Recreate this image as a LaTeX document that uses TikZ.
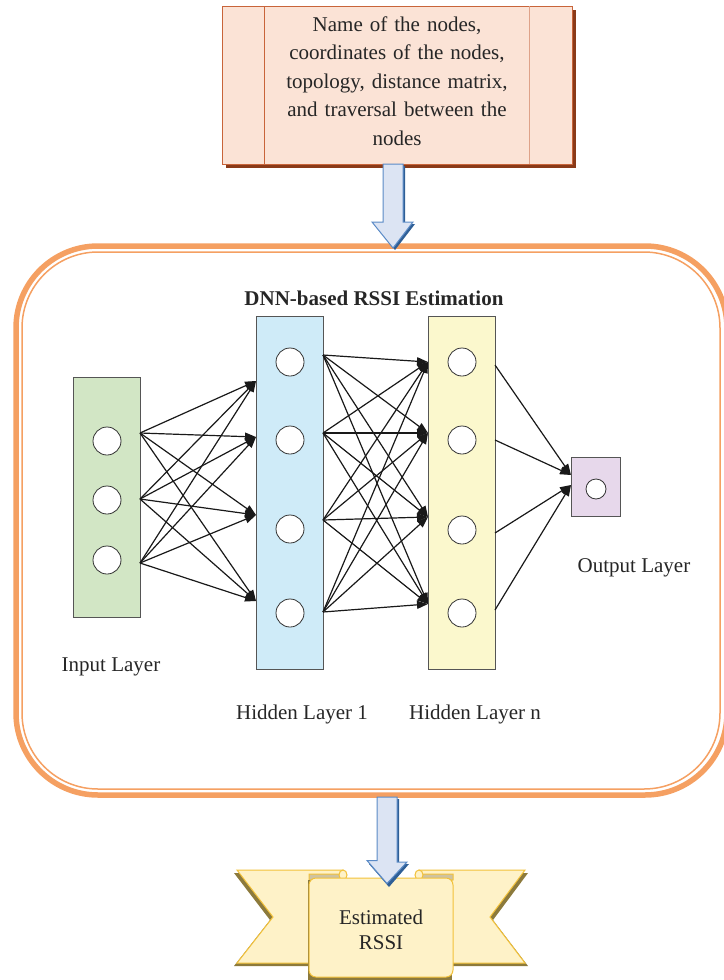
\documentclass[tikz,border=0pt]{standalone}
\usepackage{fontspec}
\setmainfont{Liberation Serif}
\usetikzlibrary{arrows.meta,calc}
\definecolor{topfill}{HTML}{FBE3D6}
\definecolor{topborder}{HTML}{C8643A}
\definecolor{topshadow}{HTML}{8A3A18}
\definecolor{arrfill}{HTML}{DCE4F3}
\definecolor{arrborder}{HTML}{5A8AC6}
\definecolor{arrshadow}{HTML}{2F5F96}
\definecolor{boxorange}{HTML}{F5A062}
\definecolor{greenfill}{HTML}{D2E6C5}
\definecolor{bluefill}{HTML}{CFEBF8}
\definecolor{yellowfill}{HTML}{FBF8CD}
\definecolor{purplefill}{HTML}{E7D8EB}
\definecolor{layerborder}{HTML}{555555}
\definecolor{ribfill}{HTML}{FEF2C8}
\definecolor{ribborder}{HTML}{F2C13A}
\definecolor{ribback}{HTML}{CFC3A0}
\definecolor{ribshadow}{HTML}{8C7A3C}
\begin{document}
\begin{tikzpicture}[x=1pt,y=-1pt,
  txt/.style={font=\fontsize{21}{25}\selectfont, text=black!85, inner sep=0pt},
  layer/.style={draw=layerborder, line width=0.8pt, inner sep=0pt},
  neuron/.style={circle, draw=black!80, fill=white, line width=0.8pt, minimum size=28pt, inner sep=0pt},
  link/.style={line width=1.2pt, draw=black!90, -{Triangle[length=11pt,width=8pt]}},
  blockarrow/.style={draw=arrborder, fill=arrfill, line width=1pt},
  ribbon/.style={draw=ribborder, fill=ribfill, line width=1pt}]
\useasboundingbox (0,0) rectangle (723,980);

% ---------- top source box ----------
\fill[topshadow] (226,10) rectangle (576,168);
\node[draw=topborder, fill=topfill, line width=1pt, minimum width=350pt, minimum height=158pt, inner sep=0pt, anchor=north west] (src) at (222,6) {};
\draw[topborder, line width=1pt] (264,6) -- (264,164);
\draw[topborder!60, line width=1pt] (529,6) -- (529,164);
\node[txt, align=center, text width=262pt, font=\fontsize{21}{28.5}\selectfont] (srctext) at (397,81)
  {Name of the nodes,\\coordinates of the nodes,\\topology, distance matrix,\\and traversal between the\\nodes};

% ---------- outer rounded box ----------
\draw[boxorange, line width=5.5pt, rounded corners=82pt] (16,246) rectangle (727,795);
\draw[boxorange, line width=1.5pt, rounded corners=76pt] (22,252) rectangle (720,789);
\coordinate (boxtop) at (393,248);
\coordinate (boxbot) at (387,797);

% ---------- block arrow 1 ----------
\fill[arrshadow] (385,166) -- ++(20,0) -- ++(0,58) -- ++(10,0) -- ++(-20,26) -- ++(-20,-26) -- ++(10,0) -- cycle;
\draw[blockarrow] (383,164) -- ++(20,0) -- ++(0,58) -- ++(10,0) -- (boxtop) -- ++(-21,-26) -- ++(11,0) -- cycle;

% ---------- title ----------
\node[txt, font=\fontsize{21}{25}\selectfont\bfseries] (title) at (374,298) {DNN-based RSSI Estimation};

% ---------- layers ----------
\node[layer, fill=greenfill, minimum width=67pt, minimum height=240pt] (inL) at (106.5,497) {};
\node[layer, fill=bluefill, minimum width=67pt, minimum height=353pt] (h1L) at (289.5,492.5) {};
\node[layer, fill=yellowfill, minimum width=67pt, minimum height=353pt] (hnL) at (461.5,492.5) {};
\node[layer, fill=purplefill, minimum width=49pt, minimum height=59pt] (outL) at (595.5,486.5) {};

\node[neuron] (i1) at (107,441) {};
\node[neuron] (i2) at (107,500) {};
\node[neuron] (i3) at (107,560) {};
\node[neuron] (a1) at (290,362) {};
\node[neuron] (a2) at (290,440) {};
\node[neuron] (a3) at (290,529) {};
\node[neuron] (a4) at (290,613) {};
\node[neuron] (b1) at (462,362) {};
\node[neuron] (b2) at (462,440) {};
\node[neuron] (b3) at (462,530) {};
\node[neuron] (b4) at (462,613) {};
\node[neuron, minimum size=20pt] (o1) at (596,489) {};

% connection points on layer edges
\coordinate (iA) at (140,433); \coordinate (iB) at (140,499); \coordinate (iC) at (140,563);
\coordinate (hA) at (256,381); \coordinate (hB) at (256,437); \coordinate (hC) at (256,515); \coordinate (hD) at (256,601);
\coordinate (sA) at (323,355); \coordinate (sB) at (323,433); \coordinate (sC) at (323,520); \coordinate (sD) at (323,612);
\coordinate (tA) at (428,362); \coordinate (tB) at (428,433); \coordinate (tC) at (428,517); \coordinate (tD) at (428,604);
\coordinate (uA) at (495,365); \coordinate (uB) at (495,440); \coordinate (uC) at (495,533); \coordinate (uD) at (495,610);
\coordinate (oA) at (571,475); \coordinate (oB) at (571,485);

\foreach \s in {iA,iB,iC}{\foreach \t in {hA,hB,hC,hD}{\draw[link] (\s) -- (\t);}}
\foreach \s in {sA,sB,sC,sD}{\foreach \t in {tA,tB,tC,tD}{\draw[link] (\s) -- (\t);}}
\draw[link] (uA) -- (oA);
\draw[link] (uB) -- (oA);
\draw[link] (uC) -- (oB);
\draw[link] (uD) -- (oB);

% ---------- labels ----------
\node[txt] (inLab) at (111,667) {Input Layer};
\node[txt] (h1Lab) at (302,714) {Hidden Layer 1};
\node[txt] (hnLab) at (475,714) {Hidden Layer n};
\node[txt] (outLab) at (634,568) {Output Layer};

% ---------- ribbon ----------
\fill[ribshadow] (234,873) -- (340,873) -- (340,966) -- (234,966) -- (270,920) -- cycle;
\fill[ribshadow] (528,873) -- (422,873) -- (422,966) -- (528,966) -- (493,920) -- cycle;
\draw[ribbon] (237,870) -- (343,870) -- (343,963) -- (237,963) -- (273,917) -- cycle;
\draw[ribbon] (525,870) -- (419,870) -- (419,963) -- (525,963) -- (490,917) -- cycle;
\draw[draw=ribborder, fill=ribback, line width=1pt] (309,880) -- (309,874) -- (343,874) -- (343,884) -- cycle;
\draw[draw=ribborder, fill=ribback, line width=1pt] (453,880) -- (453,874) -- (419,874) -- (419,884) -- cycle;
\draw[ribbon] (343,875) ellipse [x radius=4, y radius=5];
\draw[ribbon] (419,875) ellipse [x radius=4, y radius=5];
\fill[ribshadow] (308,880) rectangle (452,980);
\node[ribbon, rounded corners=7pt, minimum width=144pt, minimum height=99pt, inner sep=0pt] (res) at (381,927.5) {};
\node[txt, align=center] (restext) at (381,930) {Estimated\\RSSI};

% ---------- block arrow 2 ----------
\fill[arrshadow] (379,799) -- ++(20,0) -- ++(0,65) -- ++(10,0) -- ++(-20,23) -- ++(-20,-23) -- ++(10,0) -- cycle;
\draw[blockarrow] ($(boxbot)+(-10,0)$) -- ++(20,0) -- ++(0,65) -- ++(10,0) -- ($(res.north)+(6,6)$) -- ++(-20,-23) -- ++(10,0) -- cycle;
\end{tikzpicture}
\end{document}
